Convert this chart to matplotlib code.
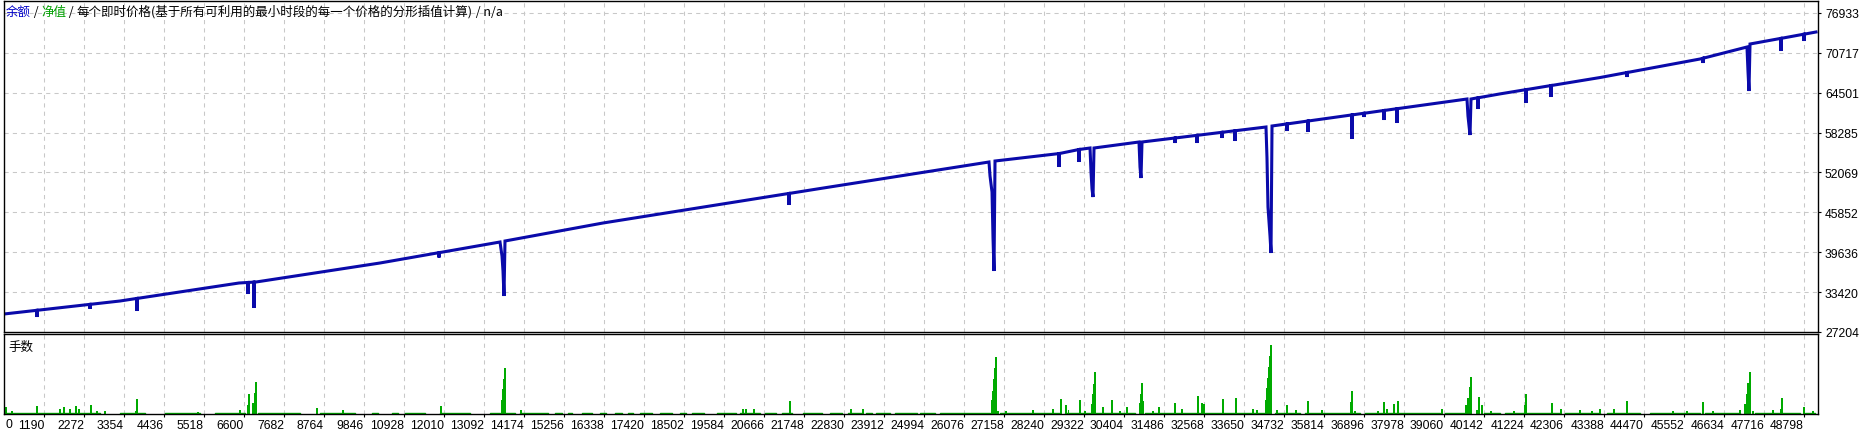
import matplotlib
matplotlib.use("Agg")
import matplotlib.pyplot as plt

# balance curve (trade number, balance) - multi-step drawdowns are kept here
bal_trade = [108, 3246, 6465, 6925, 10279, 13525, 13579, 13606, 13633, 13660,
             16311, 22100, 26752, 26780, 26834, 26861, 26888, 26915, 29485,
             29512, 29539, 29566, 29593, 30810, 30837, 30864, 30891, 34245,
             34272, 34299, 34354, 34381, 34408, 39682, 39709, 39764, 39791,
             40575, 43280, 45985, 47256, 47283, 47310, 47338, 49123]
bal_value = [30008, 32034, 34838, 34994, 37954, 41226, 39045, 36708, 32813, 41382,
             44186, 49483, 53690, 51509, 49016, 41849, 36708, 53846, 55871,
             52132, 49483, 48237, 55871, 56806, 52911, 51197, 56806, 59143,
             54313, 46679, 42161, 39512, 59299, 63505, 60857, 57897, 63505,
             64300, 66850, 69737, 71607, 67868, 64752, 72074, 73944]

# short single spikes: trade, level before, lowest level
dip_trade = [1001, 2435, 3706, 6708, 6871, 11875, 21342, 28646, 29187, 31784,
             32379, 33055, 33407, 34813, 35381, 36572, 36896, 37437, 37789,
             39980, 41279, 41955, 44010, 46066, 48176, 48798]
dip_top = [30585, 31510, 32435, 34920, 34976, 39563, 48789, 55000, 55636, 57428,
           57843, 58314, 58560, 59622, 60075, 61025, 61283, 61715, 61995,
           63697, 64964, 65601, 67629, 69856, 72952, 73604]
dip_low = [29541, 30800, 30476, 33124, 30943, 38800, 46991, 52911, 53690, 56650,
           56650, 57429, 56962, 58520, 58364, 57273, 60701, 60234, 59766,
           61947, 62882, 63817, 66933, 69114, 70984, 72542]

# lots per trade (bigger ones)
lot_trade = [162, 325, 1001, 1623, 1731, 1894, 2056, 2137, 2462, 2624, 2840,
             3679, 3706, 5356, 6492, 6708, 6735, 6844, 6898, 6925, 8575, 9278,
             11929, 13579, 13606, 13633, 13660, 14093, 20098, 20179, 20396,
             21370, 23020, 23344, 26834, 26861, 26888, 26915, 26942, 26996,
             27212, 27943, 28484, 28700, 28835, 28891, 29214, 29349, 29539,
             29566, 29593, 29620, 29836, 30080, 30296, 30486, 30837, 30864,
             30891, 30918, 31189, 31351, 31784, 31973, 32406, 32514, 32568,
             33082, 33434, 33895, 34003, 34245, 34272, 34299, 34326, 34354,
             34381, 34543, 34813, 35057, 35381, 35760, 36545, 36572, 36653,
             37275, 37437, 37518, 37708, 37816, 39006, 39655, 39709, 39764,
             39791, 39953, 40007, 40088, 40332, 40955, 41251, 41279, 41982,
             42226, 42739, 43064, 43280, 43659, 44010, 45255, 45633, 46066,
             46337, 47067, 47202, 47256, 47283, 47338, 47418, 47960, 48176,
             48203, 48798, 49043]
lot_size = [0.07, 0.03, 0.08, 0.05, 0.07, 0.05, 0.08, 0.05, 0.09, 0.03, 0.03,
            0.03, 0.15, 0.02, 0.04, 0.09, 0.20, 0.11, 0.21, 0.32, 0.06, 0.04,
            0.08, 0.14, 0.25, 0.35, 0.46, 0.04, 0.05, 0.05, 0.05,
            0.13, 0.05, 0.05, 0.14, 0.23, 0.35, 0.46, 0.57, 0.03,
            0.03, 0.04, 0.05, 0.15, 0.09, 0.04, 0.14, 0.03, 0.10,
            0.20, 0.30, 0.42, 0.07, 0.14, 0.03, 0.07, 0.11, 0.20,
            0.31, 0.13, 0.03, 0.07, 0.11, 0.05, 0.18, 0.11, 0.10,
            0.15, 0.16, 0.05, 0.04, 0.14, 0.26, 0.36, 0.47, 0.58,
            0.69, 0.04, 0.09, 0.04, 0.13, 0.04, 0.12, 0.23, 0.03,
            0.03, 0.12, 0.05, 0.10, 0.13, 0.05, 0.09, 0.16, 0.27,
            0.37, 0.04, 0.17, 0.09, 0.03, 0.03, 0.09, 0.20, 0.11,
            0.05, 0.04, 0.03, 0.05, 0.05, 0.13, 0.03, 0.03, 0.12,
            0.03, 0.04, 0.10, 0.20, 0.31, 0.42, 0.03, 0.04, 0.05,
            0.16, 0.07, 0.03]

# runs of minimum-lot trades (start, end)
small_runs = [(162, 2705), (3246, 3922), (4463, 5410), (5816, 6627), (6979, 8115),
              (8656, 9603), (10063, 10225), (10604, 10766), (10955, 11496),
              (11902, 12714), (13255, 13525), (13660, 13931), (14066, 14823),
              (15013, 15202), (15364, 15473), (15743, 16014), (16230, 16392),
              (16636, 16825), (16987, 17123), (17312, 17637), (17853, 18178),
              (18394, 18556), (18719, 19043), (19395, 19909), (20017, 20558),
              (20693, 20991), (21153, 21424), (21721, 22235), (22452, 22776),
              (22938, 23317), (23425, 23588), (23696, 24075), (24210, 24805),
              (24886, 25292), (25427, 26780), (27050, 28673), (28808, 29485),
              (29620, 30702), (30972, 32460), (32595, 34218), (34489, 35165),
              (35300, 36788), (36923, 38952), (39087, 39628), (40142, 40575),
              (40710, 42198), (42333, 43280), (43469, 44362), (44633, 45985),
              (46120, 47067), (47473, 48690), (48825, 49096)]

y_ticks = [27204, 33420, 39636, 45852, 52069, 58285, 64501, 70717, 76933]
x_ticks = list(range(1190, 49000, 1082))

blue = "#0a0aaa"
green = "#00aa00"
grid_kw = dict(color="#c8c8c8", linestyle=(0, (4, 4)), linewidth=0.75)
num_font = "Liberation Sans"
cjk = ["Noto Sans CJK SC", "DejaVu Sans"]

# merge spikes into the balance line
pts = list(zip(bal_trade, bal_value))
for t, top, low in zip(dip_trade, dip_top, dip_low):
    pts += [(t - 4, top), (t, low), (t + 4, top)]
pts.sort(key=lambda p: p[0])
line_x = [p[0] for p in pts]
line_y = [p[1] for p in pts]

W, H = 1873, 435
fig = plt.figure(figsize=(W / 100, H / 100), dpi=100)
ax = fig.add_axes([4 / W, (H - 333) / H, 1814 / W, 331 / H])
ax2 = fig.add_axes([4 / W, (H - 415) / H, 1814 / W, 80 / H])

xmin, xmax = 108, 49177
for a in (ax, ax2):
    a.set_xlim(xmin, xmax)
    for s in a.spines.values():
        s.set_linewidth(1.0)
        s.set_color("black")
    for xt in x_ticks:
        a.axvline(xt, zorder=0, **grid_kw)

# main panel
for yt in y_ticks[1:]:
    ax.axhline(yt, zorder=0, **grid_kw)
ax.plot(line_x, line_y, color=blue, linewidth=2.2, solid_joinstyle="miter")
ax.set_ylim(27204, 78774)
ax.yaxis.tick_right()
ax.set_yticks(y_ticks)
ax.set_yticklabels([str(v) for v in y_ticks], fontfamily=num_font, fontsize=8.7)
ax.tick_params(axis="y", length=2, pad=3, width=0.8)
ax.set_xticks([])

# lots panel
ax2.bar(lot_trade, lot_size, width=30, color=green, linewidth=0)
ax2.broken_barh([(a, b - a) for a, b in small_runs], (0, 0.012), color=green)
ax2.set_ylim(0, 0.80)
ax2.set_yticks([])
ax2.set_xticks(x_ticks)
ax2.set_xticklabels([str(v) for v in x_ticks], fontfamily=num_font, fontsize=8.7, ha="right")
ax2.tick_params(axis="x", length=2, pad=1.5, width=0.8)
fig.text(6 / W, 1 - 425 / H, "0", fontfamily=num_font, fontsize=8.7, va="center", ha="left")
fig.text(8 / W, 1 - 347 / H, "手数", family=cjk, fontsize=9, va="center", ha="left")

# legend line at top-left
parts = [("余额", "#0000c8"), (" / ", "black"), ("净值", "#00a000"), (" / ", "black"),
         ("每个即时价格(基于所有可利用的最小时段的每一个价格的分形插值计算)", "black"),
         (" / n/a", "black")]
prev = fig.text(6 / W, 1 - 12 / H, parts[0][0], color=parts[0][1], family=cjk,
                fontsize=9, va="center", ha="left")
for s, c in parts[1:]:
    prev = ax.annotate(s, xy=(1, 0), xycoords=prev, va="bottom", ha="left",
                       color=c, family=cjk, fontsize=9)

fig.savefig("out.png", dpi=100, facecolor="white")
